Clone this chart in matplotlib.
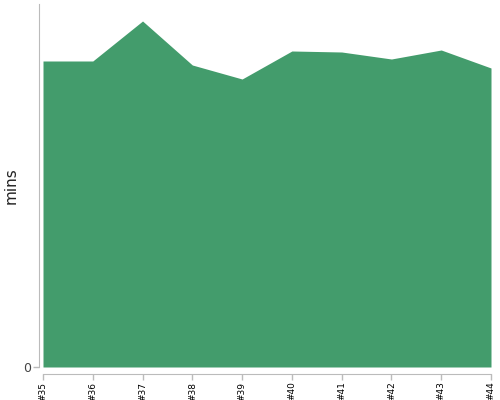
import matplotlib
matplotlib.use('Agg')
import matplotlib.pyplot as plt

builds = ['#35', '#36', '#37', '#38', '#39', '#40', '#41', '#42', '#43', '#44']
mins = [306, 306, 346, 302, 288, 316, 315, 308, 317, 299]

fig = plt.figure(figsize=(5, 4), dpi=100)
ax = fig.add_axes([43/500, 33/400, 448/500, 363/400])

x = list(range(len(builds)))
ax.fill_between(x, mins, 0, color='#439c6c', linewidth=0)

ax.set_xlim(0, len(builds) - 1)
ax.set_ylim(0, 363)
ax.set_xticks(x)
ax.set_xticklabels(builds)
ax.set_yticks([0])
ax.set_yticklabels(['0'])
ax.set_ylabel('mins', fontsize=11, color='#222222')
ax.yaxis.set_label_coords(-24/448, 0.5)

for side in ['top', 'right']:
    ax.spines[side].set_visible(False)
ax.spines['left'].set_position(('outward', 3))
ax.spines['bottom'].set_position(('outward', 5))
for side in ['left', 'bottom']:
    ax.spines[side].set_color('#bbbbbb')
ax.tick_params(axis='both', color='#bbbbbb', length=4, width=1, pad=1.5)
ax.tick_params(axis='x', labelrotation=90, labelsize=6.5, labelcolor='black')
ax.tick_params(axis='y', labelsize=9, labelcolor='#444444')

plt.savefig('out.png', dpi=100)
